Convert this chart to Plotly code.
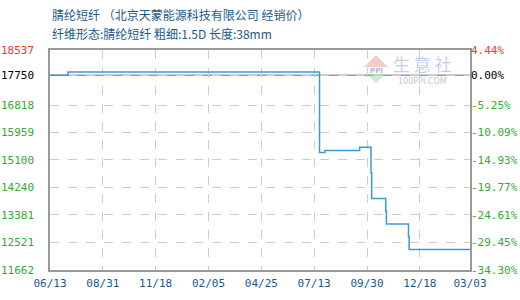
import plotly.graph_objects as go

dates = ["2021-06-13", "2021-07-10", "2022-07-21", "2022-07-29", "2022-09-19",
         "2022-10-06", "2022-10-07", "2022-10-28", "2022-10-29", "2022-12-01",
         "2022-12-02", "2023-03-03"]
prices = [17750, 17850, 15330, 15400, 15500, 14700, 13900, 13500, 13100, 12700, 12300, 12300]

y_ticks = [18537, 17750, 16818, 15959, 15100, 14240, 13381, 12521, 11662]
pct_labels = ["4.44%", "0.00%", "-5.25%", "-10.09%", "-14.93%", "-19.77%", "-24.61%", "-29.45%", "-34.30%"]
x_tick_dates = ["2021-06-13", "2021-08-31", "2021-11-18", "2022-02-05", "2022-04-25",
                "2022-07-13", "2022-09-30", "2022-12-18", "2023-03-03"]
x_tick_labels = ["06/13", "08/31", "11/18", "02/05", "04/25", "07/13", "09/30", "12/18", "03/03"]
base = 17750

def colorize(texts):
    out = []
    for i, t in enumerate(texts):
        if i == 0:
            c = "#ff3333"
        elif i == 1:
            c = "#000000"
        else:
            c = "#33aa33"
        out.append(f"<span style='color:{c}'>{t}</span>")
    return out

fig = go.Figure()
fig.add_trace(go.Scatter(x=dates, y=prices, mode="lines", line=dict(color="#3a9ad9", width=1.5, shape="hv"),
                         showlegend=False))
fig.add_trace(go.Scatter(x=dates, y=prices, mode="lines", line=dict(width=0), yaxis="y2",
                         showlegend=False, hoverinfo="skip"))

font_mono = "DejaVu Sans Mono, monospace"
fig.update_layout(
    width=520, height=300,
    margin=dict(l=50, r=50, t=50, b=30),
    paper_bgcolor="white", plot_bgcolor="white",
    xaxis=dict(type="date", range=[x_tick_dates[0], x_tick_dates[-1]],
               tickvals=x_tick_dates, ticktext=x_tick_labels,
               tickfont=dict(family=font_mono, size=11, color="#1a5a8a"),
               showgrid=True, gridcolor="#cccccc", griddash="dash", gridwidth=1,
               showline=True, linecolor="#999999", linewidth=1.5, mirror=True,
               ticks="", zeroline=False, ticklabelstandoff=2, automargin=False),
    yaxis=dict(range=[11662, 18537], tickvals=y_ticks, ticktext=colorize([str(v) for v in y_ticks]),
               tickfont=dict(family=font_mono, size=11),
               showgrid=True, gridcolor="#cccccc", griddash="dash", gridwidth=1,
               showline=True, linecolor="#999999", linewidth=1.5, mirror=True,
               ticks="", zeroline=False, ticklabelstandoff=12, automargin=False),
    yaxis2=dict(range=[11662, 18537], tickvals=y_ticks, ticktext=colorize(pct_labels),
                tickfont=dict(family=font_mono, size=11), automargin=False,
                overlaying="y", side="right", showgrid=False, showline=False, ticks="", zeroline=False),
)

fig.add_shape(type="line", xref="paper", yref="y", x0=0, x1=1, y0=base, y1=base,
              line=dict(color="#999999", width=1.5), layer="below")

# watermark
def px(x):
    return (x - 50) / 420
def py(y):
    return 1 - (y - 50) / 220

fig.add_shape(type="path", xref="paper", yref="paper",
              path=f"M {px(364)} {py(67)} L {px(376)} {py(55)} L {px(388)} {py(67)} Z",
              fillcolor="rgba(240,150,150,0.5)", line=dict(width=0), layer="below")
fig.add_shape(type="path", xref="paper", yref="paper",
              path=f"M {px(367)} {py(74)} L {px(376)} {py(83)} L {px(385)} {py(74)} Z",
              fillcolor="rgba(150,220,150,0.5)", line=dict(width=0), layer="below")
fig.add_annotation(xref="paper", yref="paper", x=px(376), y=py(70.5), text="<b>PPI</b>", showarrow=False,
                   xanchor="center", yanchor="middle",
                   font=dict(family="DejaVu Sans", size=7, color="rgba(150,160,200,0.8)"))
fig.add_annotation(xref="paper", yref="paper", x=px(422), y=py(64), text="生 意 社",
                   xanchor="center", yanchor="middle",
                   showarrow=False, font=dict(family="Noto Sans CJK SC", size=17, color="rgba(170,185,225,0.7)"))
fig.add_annotation(xref="paper", yref="paper", x=px(422), y=py(81), text="100PPI.COM",
                   xanchor="center", yanchor="middle",
                   showarrow=False, font=dict(family="DejaVu Sans", size=8, color="rgba(180,180,190,0.8)"))

fig.add_annotation(xref="paper", yref="paper", x=0, y=py(14), text="腈纶短纤 （北京天蒙能源科技有限公司 经销价）",
                   showarrow=False, xanchor="left", yanchor="middle",
                   font=dict(family="Noto Sans CJK SC", size=12, color="#1a5a8a"))
fig.add_annotation(xref="paper", yref="paper", x=0, y=py(33), text="纤维形态:腈纶短纤 粗细:1.5D 长度:38mm",
                   showarrow=False, xanchor="left", yanchor="middle",
                   font=dict(family="Noto Sans CJK SC", size=12, color="#1a5a8a"))

fig.write_html("out.html")
